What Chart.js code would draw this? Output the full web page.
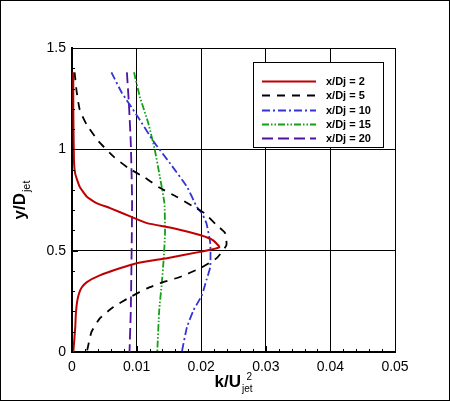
<!DOCTYPE html>
<html>
<head>
<meta charset="utf-8">
<script src="https://cdn.jsdelivr.net/npm/chart.js@4/dist/chart.umd.min.js"></script>
<style>
  html, body { margin: 0; padding: 0; background: #fff; }
  #wrap { width: 450px; height: 401px; }
</style>
</head>
<body>
<div id="wrap"><canvas id="profileChart" width="450" height="401"></canvas></div>
<script>
// values, profiles run top -> bottom
const seriesLabels = ['x/Dj = 2', 'x/Dj = 5', 'x/Dj = 10', 'x/Dj = 15', 'x/Dj = 20'];

const k2 = [0.0002, 0.0002, 0.0003, 0.0005, 0.0012, 0.0023, 0.0038, 0.0059, 0.0092, 0.0116, 0.0157, 0.0198, 0.0218, 0.0228, 0.0198, 0.0147, 0.0100, 0.0074, 0.0043, 0.0023, 0.0015, 0.0011, 0.0008, 0.0006, 0.0005, 0.0002];
const y2 = [1.38, 1.20, 0.95, 0.88, 0.815, 0.766, 0.735, 0.71, 0.667, 0.636, 0.611, 0.577, 0.552, 0.517, 0.494, 0.463, 0.438, 0.413, 0.378, 0.345, 0.318, 0.29, 0.25, 0.19, 0.12, 0];

const k5 = [0.0004, 0.0007, 0.0012, 0.0023, 0.0041, 0.0064, 0.0087, 0.0113, 0.0136, 0.0162, 0.0188, 0.0205, 0.0224, 0.0237, 0.0239, 0.0224, 0.0198, 0.0167, 0.0141, 0.0116, 0.0090, 0.0064, 0.0043, 0.0030, 0.0023];
const y5 = [1.38, 1.29, 1.195, 1.12, 1.04, 0.965, 0.908, 0.86, 0.81, 0.766, 0.717, 0.685, 0.626, 0.587, 0.527, 0.463, 0.413, 0.37, 0.345, 0.314, 0.271, 0.222, 0.166, 0.098, 0];

const k10 = [0.0061, 0.0077, 0.0100, 0.0126, 0.0152, 0.0178, 0.0193, 0.0201, 0.0208, 0.0214, 0.0214, 0.0208, 0.0201, 0.0188, 0.0178, 0.0170];
const y10 = [1.38, 1.28, 1.17, 1.04, 0.93, 0.815, 0.717, 0.685, 0.636, 0.537, 0.42, 0.354, 0.28, 0.205, 0.123, 0];

const k15 = [0.0096, 0.0105, 0.0118, 0.0128, 0.0136, 0.0143, 0.0144, 0.0142, 0.0139, 0.0135, 0.0132];
const y15 = [1.38, 1.26, 1.13, 1.00, 0.865, 0.735, 0.587, 0.463, 0.34, 0.205, 0];

const k20 = [0.0085, 0.0088, 0.0091, 0.0093, 0.0092, 0.0091, 0.0089];
const y20 = [1.38, 1.23, 1.03, 0.75, 0.42, 0.205, 0];

const xTickLabels = ['0', '0.01', '0.02', '0.03', '0.04', '0.05'];
const yTickLabels = ['0', '0.5', '1', '1.5'];

const FONT = '"Liberation Sans", Arial, Helvetica, sans-serif';

function pts(xs, ys) { return xs.map((x, i) => ({ x: x, y: ys[i] })); }

const styles = [
  { color: '#c00000', dash: [] },
  { color: '#000000', dash: [8, 7] },
  { color: '#3434d4', dash: [8, 3, 2, 3] },
  { color: '#14a014', dash: [7, 2, 1.5, 2, 1.5, 2] },
  { color: '#5010a0', dash: [11, 5] }
];
const series = [pts(k2, y2), pts(k5, y5), pts(k10, y10), pts(k15, y15), pts(k20, y20)];

const datasets = series.map((d, i) => ({
  label: seriesLabels[i],
  data: d,
  showLine: true,
  borderColor: styles[i].color,
  borderDash: styles[i].dash,
  borderWidth: i === 0 ? 2 : 1.8,
  pointRadius: 0,
  fill: false,
  tension: 0.15
}));

// inward ticks, frame, axis titles with sub/superscripts, boxed legend
const decor = {
  id: 'decor',
  beforeDraw(chart) {
    const c = chart.ctx;
    c.save();
    c.fillStyle = '#fff';
    c.fillRect(0, 0, chart.width, chart.height);
    c.restore();
  },
  afterDraw(chart) {
    const c = chart.ctx;
    const a = chart.chartArea;
    const xs = chart.scales.x, ys = chart.scales.y;
    c.save();
    c.strokeStyle = '#000';
    c.lineWidth = 1;

    // bottom ticks
    for (let i = 0; i <= 25; i++) {
      const px = Math.round(xs.getPixelForValue(i * 0.002)) + 0.5;
      const len = (i % 5 === 0) ? 6 : 3;
      c.beginPath(); c.moveTo(px, a.bottom); c.lineTo(px, a.bottom - len); c.stroke();
    }
    // left ticks
    for (let i = 0; i <= 15; i++) {
      const py = Math.round(ys.getPixelForValue(i * 0.1)) + 0.5;
      const len = (i % 5 === 0) ? 6 : 3;
      c.beginPath(); c.moveTo(a.left, py); c.lineTo(a.left + len, py); c.stroke();
    }

    // outer frame
    c.strokeRect(0.5, 0.5, chart.width - 1, chart.height - 1);

    c.fillStyle = '#000';
    c.textBaseline = 'alphabetic';

    // x title: k/U_jet^2
    const cx = (a.left + a.right) / 2;
    c.font = 'bold 17px ' + FONT;
    const wMain = c.measureText('k/U').width;
    c.font = '10px ' + FONT;
    const wSub = c.measureText('jet').width;
    let x0 = cx - (wMain + 1 + wSub) / 2;
    c.font = 'bold 17px ' + FONT;
    c.fillText('k/U', x0, 387);
    c.font = '10px ' + FONT;
    c.fillText('jet', x0 + wMain + 1, 392);
    c.fillText('2', x0 + wMain + wSub - 5, 380);

    // y title: y/D_jet, rotated
    c.translate(25, (a.top + a.bottom) / 2);
    c.rotate(-Math.PI / 2);
    c.font = 'bold 17px ' + FONT;
    const wy = c.measureText('y/D').width;
    c.font = '11px ' + FONT;
    const wj = c.measureText('jet').width;
    const y0 = -(wy + 1 + wj) / 2;
    c.font = 'bold 17px ' + FONT;
    c.fillText('y/D', y0, 0);
    c.font = '11px ' + FONT;
    c.fillText('jet', y0 + wy + 1, 5);
    c.setTransform(1, 0, 0, 1, 0, 0);

    // legend box
    c.fillStyle = '#fff';
    c.fillRect(253, 62, 130, 85);
    c.strokeStyle = '#000';
    c.lineWidth = 1;
    c.strokeRect(253.5, 62.5, 130, 85);
    c.font = 'bold 11px ' + FONT;
    c.textBaseline = 'middle';
    chart.data.datasets.forEach((ds, i) => {
      const ry = Math.round(81 + i * 14.3) + 0.5;
      c.strokeStyle = ds.borderColor;
      c.lineWidth = ds.borderWidth;
      c.setLineDash(ds.borderDash);
      c.beginPath(); c.moveTo(262, ry); c.lineTo(316, ry); c.stroke();
      c.setLineDash([]);
      c.fillStyle = '#000';
      c.fillText(ds.label, 326, ry);
    });
    c.restore();
  }
};

new Chart(document.getElementById('profileChart').getContext('2d'), {
  type: 'scatter',
  data: { datasets: datasets },
  plugins: [decor],
  options: {
    responsive: false,
    animation: false,
    devicePixelRatio: 1,
    layout: { padding: { left: 0, top: 48, right: 55, bottom: 0 } },
    plugins: { legend: { display: false }, tooltip: { enabled: false } },
    scales: {
      x: {
        type: 'linear', min: 0, max: 0.05,
        afterFit(s) { s.height = 49; },
        grid: { color: '#000', lineWidth: 1, drawTicks: false },
        border: { display: true, color: '#000', width: 2 },
        ticks: {
          stepSize: 0.01, padding: 7, color: '#000',
          font: { family: FONT, size: 14 },
          callback: (v, i) => xTickLabels[i]
        }
      },
      y: {
        type: 'linear', min: 0, max: 1.5,
        afterFit(s) { s.width = 72; },
        grid: { color: '#000', lineWidth: 1, drawTicks: false },
        border: { display: true, color: '#000', width: 2 },
        ticks: {
          stepSize: 0.5, padding: 6, color: '#000',
          font: { family: FONT, size: 14 },
          callback: (v, i) => yTickLabels[i]
        }
      }
    }
  }
});
</script>
</body>
</html>
